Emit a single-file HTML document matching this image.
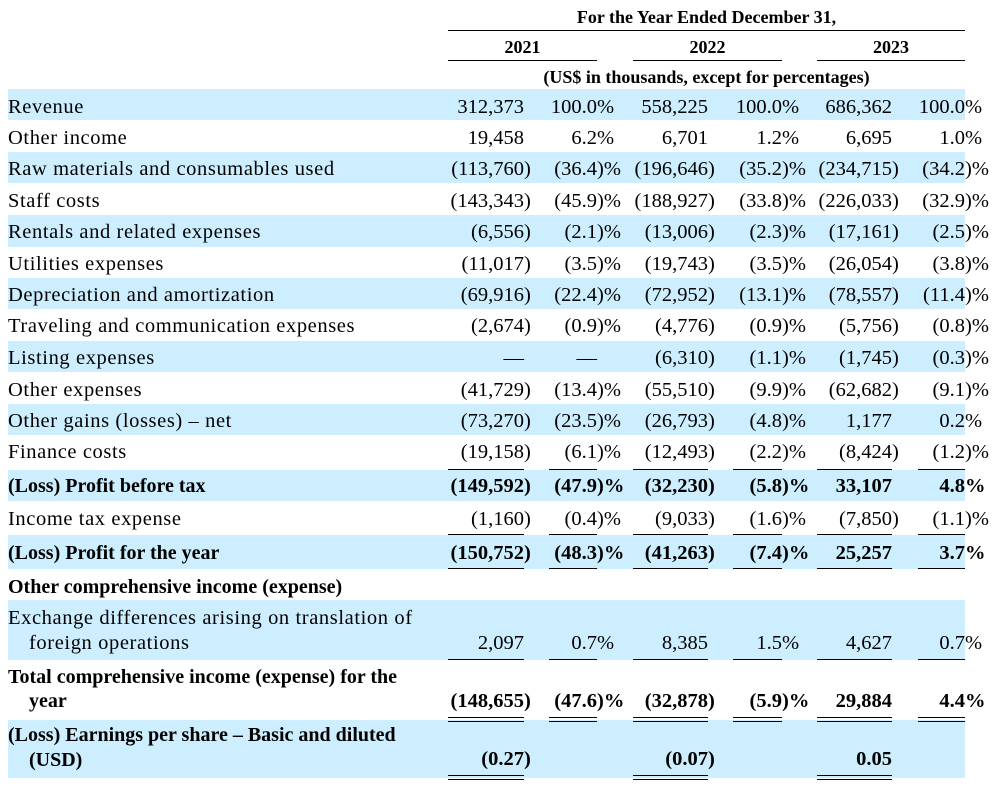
<!DOCTYPE html>
<html><head><meta charset="utf-8">
<style>
html,body{margin:0;padding:0}
body{width:999px;height:793px;background:#fff;position:relative;overflow:hidden;font-family:"Liberation Serif","Times New Roman",serif;color:#000}
.b{position:absolute;left:8px;width:957px;background:#cceeff}
.r{position:absolute;left:0;width:999px;height:0;margin-top:1px}
.l{position:absolute;left:8px;top:0;font-size:20.5px;line-height:20.5px;letter-spacing:0.6px;white-space:nowrap}
.lb{position:absolute;left:8px;top:0;font-size:20px;line-height:20px;font-weight:bold;white-space:nowrap}
.ind{left:29px}
.c{position:absolute;top:0;width:0;height:20.5px;font-size:20.5px;line-height:20.5px}
.c .n{position:absolute;right:0;top:0;white-space:nowrap}
.c .s{position:absolute;left:0;top:0;white-space:nowrap}
.bd .c{font-weight:bold}
.u{position:absolute;height:1.2px;background:#000}
.h{position:absolute;font-size:18px;line-height:18px;font-weight:bold;white-space:nowrap;text-align:center;margin-top:1px}
.c1{left:524px}.p1{left:597px}.c2{left:708px}.p2{left:782px}.c3{left:892px}.p3{left:965px}
</style></head><body>

<!-- header -->
<div class="h" style="left:448px;width:517px;top:6.9px">For the Year Ended December 31,</div>
<div class="u" style="left:448px;width:517px;top:30px"></div>
<div class="h" style="left:448px;width:149px;top:37.2px">2021</div>
<div class="h" style="left:633px;width:149px;top:37.2px">2022</div>
<div class="h" style="left:817px;width:148px;top:37.2px">2023</div>
<div class="u" style="left:448px;width:149px;top:60px"></div>
<div class="u" style="left:633px;width:149px;top:60px"></div>
<div class="u" style="left:817px;width:148px;top:60px"></div>
<div class="h" style="left:448px;width:517px;top:66.6px">(US$ in thousands, except for percentages)</div>

<!-- bands -->
<div class="b" style="top:89px;height:31px"></div>
<div class="b" style="top:152px;height:31px"></div>
<div class="b" style="top:215px;height:31.5px"></div>
<div class="b" style="top:278px;height:31px"></div>
<div class="b" style="top:341px;height:31px"></div>
<div class="b" style="top:404px;height:31px"></div>
<div class="b" style="top:470px;height:31px"></div>
<div class="b" style="top:535px;height:33.5px"></div>
<div class="b" style="top:600px;height:60px"></div>
<div class="b" style="top:720px;height:58px"></div>

<!-- rows -->
<div class="r" style="top:95.5px"><div class="l">Revenue</div>
<div class="c c1"><span class="n">312,373</span></div>
<div class="c p1"><span class="n">100.0</span><span class="s">%</span></div>
<div class="c c2"><span class="n">558,225</span></div>
<div class="c p2"><span class="n">100.0</span><span class="s">%</span></div>
<div class="c c3"><span class="n">686,362</span></div>
<div class="c p3"><span class="n">100.0</span><span class="s">%</span></div></div>

<div class="r" style="top:126.9px"><div class="l">Other income</div>
<div class="c c1"><span class="n">19,458</span></div>
<div class="c p1"><span class="n">6.2</span><span class="s">%</span></div>
<div class="c c2"><span class="n">6,701</span></div>
<div class="c p2"><span class="n">1.2</span><span class="s">%</span></div>
<div class="c c3"><span class="n">6,695</span></div>
<div class="c p3"><span class="n">1.0</span><span class="s">%</span></div></div>

<div class="r" style="top:158.3px"><div class="l">Raw materials and consumables used</div>
<div class="c c1"><span class="n">(113,760</span><span class="s">)</span></div>
<div class="c p1"><span class="n">(36.4</span><span class="s">)%</span></div>
<div class="c c2"><span class="n">(196,646</span><span class="s">)</span></div>
<div class="c p2"><span class="n">(35.2</span><span class="s">)%</span></div>
<div class="c c3"><span class="n">(234,715</span><span class="s">)</span></div>
<div class="c p3"><span class="n">(34.2</span><span class="s">)%</span></div></div>

<div class="r" style="top:189.7px"><div class="l">Staff costs</div>
<div class="c c1"><span class="n">(143,343</span><span class="s">)</span></div>
<div class="c p1"><span class="n">(45.9</span><span class="s">)%</span></div>
<div class="c c2"><span class="n">(188,927</span><span class="s">)</span></div>
<div class="c p2"><span class="n">(33.8</span><span class="s">)%</span></div>
<div class="c c3"><span class="n">(226,033</span><span class="s">)</span></div>
<div class="c p3"><span class="n">(32.9</span><span class="s">)%</span></div></div>

<div class="r" style="top:221.1px"><div class="l">Rentals and related expenses</div>
<div class="c c1"><span class="n">(6,556</span><span class="s">)</span></div>
<div class="c p1"><span class="n">(2.1</span><span class="s">)%</span></div>
<div class="c c2"><span class="n">(13,006</span><span class="s">)</span></div>
<div class="c p2"><span class="n">(2.3</span><span class="s">)%</span></div>
<div class="c c3"><span class="n">(17,161</span><span class="s">)</span></div>
<div class="c p3"><span class="n">(2.5</span><span class="s">)%</span></div></div>

<div class="r" style="top:252.5px"><div class="l">Utilities expenses</div>
<div class="c c1"><span class="n">(11,017</span><span class="s">)</span></div>
<div class="c p1"><span class="n">(3.5</span><span class="s">)%</span></div>
<div class="c c2"><span class="n">(19,743</span><span class="s">)</span></div>
<div class="c p2"><span class="n">(3.5</span><span class="s">)%</span></div>
<div class="c c3"><span class="n">(26,054</span><span class="s">)</span></div>
<div class="c p3"><span class="n">(3.8</span><span class="s">)%</span></div></div>

<div class="r" style="top:283.9px"><div class="l">Depreciation and amortization</div>
<div class="c c1"><span class="n">(69,916</span><span class="s">)</span></div>
<div class="c p1"><span class="n">(22.4</span><span class="s">)%</span></div>
<div class="c c2"><span class="n">(72,952</span><span class="s">)</span></div>
<div class="c p2"><span class="n">(13.1</span><span class="s">)%</span></div>
<div class="c c3"><span class="n">(78,557</span><span class="s">)</span></div>
<div class="c p3"><span class="n">(11.4</span><span class="s">)%</span></div></div>

<div class="r" style="top:315.3px"><div class="l">Traveling and communication expenses</div>
<div class="c c1"><span class="n">(2,674</span><span class="s">)</span></div>
<div class="c p1"><span class="n">(0.9</span><span class="s">)%</span></div>
<div class="c c2"><span class="n">(4,776</span><span class="s">)</span></div>
<div class="c p2"><span class="n">(0.9</span><span class="s">)%</span></div>
<div class="c c3"><span class="n">(5,756</span><span class="s">)</span></div>
<div class="c p3"><span class="n">(0.8</span><span class="s">)%</span></div></div>

<div class="r" style="top:346.7px"><div class="l">Listing expenses</div>
<div class="c c1"><span class="n">—</span></div>
<div class="c p1"><span class="n">—</span></div>
<div class="c c2"><span class="n">(6,310</span><span class="s">)</span></div>
<div class="c p2"><span class="n">(1.1</span><span class="s">)%</span></div>
<div class="c c3"><span class="n">(1,745</span><span class="s">)</span></div>
<div class="c p3"><span class="n">(0.3</span><span class="s">)%</span></div></div>

<div class="r" style="top:378.6px"><div class="l">Other expenses</div>
<div class="c c1"><span class="n">(41,729</span><span class="s">)</span></div>
<div class="c p1"><span class="n">(13.4</span><span class="s">)%</span></div>
<div class="c c2"><span class="n">(55,510</span><span class="s">)</span></div>
<div class="c p2"><span class="n">(9.9</span><span class="s">)%</span></div>
<div class="c c3"><span class="n">(62,682</span><span class="s">)</span></div>
<div class="c p3"><span class="n">(9.1</span><span class="s">)%</span></div></div>

<div class="r" style="top:409.5px"><div class="l">Other gains (losses) – net</div>
<div class="c c1"><span class="n">(73,270</span><span class="s">)</span></div>
<div class="c p1"><span class="n">(23.5</span><span class="s">)%</span></div>
<div class="c c2"><span class="n">(26,793</span><span class="s">)</span></div>
<div class="c p2"><span class="n">(4.8</span><span class="s">)%</span></div>
<div class="c c3"><span class="n">1,177</span></div>
<div class="c p3"><span class="n">0.2</span><span class="s">%</span></div></div>

<div class="r" style="top:441.2px"><div class="l">Finance costs</div>
<div class="c c1"><span class="n">(19,158</span><span class="s">)</span></div>
<div class="c p1"><span class="n">(6.1</span><span class="s">)%</span></div>
<div class="c c2"><span class="n">(12,493</span><span class="s">)</span></div>
<div class="c p2"><span class="n">(2.2</span><span class="s">)%</span></div>
<div class="c c3"><span class="n">(8,424</span><span class="s">)</span></div>
<div class="c p3"><span class="n">(1.2</span><span class="s">)%</span></div></div>

<div class="r bd" style="top:475.1px"><div class="lb" style="top:0.4px">(Loss) Profit before tax</div>
<div class="c c1"><span class="n">(149,592</span><span class="s">)</span></div>
<div class="c p1"><span class="n">(47.9</span><span class="s">)%</span></div>
<div class="c c2"><span class="n">(32,230</span><span class="s">)</span></div>
<div class="c p2"><span class="n">(5.8</span><span class="s">)%</span></div>
<div class="c c3"><span class="n">33,107</span></div>
<div class="c p3"><span class="n">4.8</span><span class="s">%</span></div></div>

<div class="r" style="top:507.5px"><div class="l">Income tax expense</div>
<div class="c c1"><span class="n">(1,160</span><span class="s">)</span></div>
<div class="c p1"><span class="n">(0.4</span><span class="s">)%</span></div>
<div class="c c2"><span class="n">(9,033</span><span class="s">)</span></div>
<div class="c p2"><span class="n">(1.6</span><span class="s">)%</span></div>
<div class="c c3"><span class="n">(7,850</span><span class="s">)</span></div>
<div class="c p3"><span class="n">(1.1</span><span class="s">)%</span></div></div>

<div class="r bd" style="top:541.8px"><div class="lb">(Loss) Profit for the year</div>
<div class="c c1"><span class="n">(150,752</span><span class="s">)</span></div>
<div class="c p1"><span class="n">(48.3</span><span class="s">)%</span></div>
<div class="c c2"><span class="n">(41,263</span><span class="s">)</span></div>
<div class="c p2"><span class="n">(7.4</span><span class="s">)%</span></div>
<div class="c c3"><span class="n">25,257</span></div>
<div class="c p3"><span class="n">3.7</span><span class="s">%</span></div></div>

<div class="r" style="top:575.95px"><div class="lb">Other comprehensive income (expense)</div></div>

<div class="r" style="top:607.1px"><div class="l">Exchange differences arising on translation of</div></div>
<div class="r" style="top:631.6px"><div class="l ind">foreign operations</div>
<div class="c c1"><span class="n">2,097</span></div>
<div class="c p1"><span class="n">0.7</span><span class="s">%</span></div>
<div class="c c2"><span class="n">8,385</span></div>
<div class="c p2"><span class="n">1.5</span><span class="s">%</span></div>
<div class="c c3"><span class="n">4,627</span></div>
<div class="c p3"><span class="n">0.7</span><span class="s">%</span></div></div>

<div class="r" style="top:666.15px"><div class="lb">Total comprehensive income (expense) for the</div></div>
<div class="r bd" style="top:689.8px"><div class="lb ind" style="top:0.6px">year</div>
<div class="c c1"><span class="n">(148,655</span><span class="s">)</span></div>
<div class="c p1"><span class="n">(47.6</span><span class="s">)%</span></div>
<div class="c c2"><span class="n">(32,878</span><span class="s">)</span></div>
<div class="c p2"><span class="n">(5.9</span><span class="s">)%</span></div>
<div class="c c3"><span class="n">29,884</span></div>
<div class="c p3"><span class="n">4.4</span><span class="s">%</span></div></div>

<div class="r" style="top:724.25px"><div class="lb">(Loss) Earnings per share – Basic and diluted</div></div>
<div class="r bd" style="top:748px"><div class="lb ind" style="top:0.75px">(USD)</div>
<div class="c c1"><span class="n">(0.27</span><span class="s">)</span></div>
<div class="c c2"><span class="n">(0.07</span><span class="s">)</span></div>
<div class="c c3"><span class="n">0.05</span></div></div>

<!-- underlines: finance costs -->
<div class="u" style="left:448px;width:76px;top:469px"></div>
<div class="u" style="left:549px;width:48px;top:469px"></div>
<div class="u" style="left:633px;width:75px;top:469px"></div>
<div class="u" style="left:733px;width:49px;top:469px"></div>
<div class="u" style="left:817px;width:75px;top:469px"></div>
<div class="u" style="left:918px;width:47px;top:469px"></div>
<!-- income tax -->
<div class="u" style="left:448px;width:76px;top:534px"></div>
<div class="u" style="left:549px;width:48px;top:534px"></div>
<div class="u" style="left:633px;width:75px;top:534px"></div>
<div class="u" style="left:733px;width:49px;top:534px"></div>
<div class="u" style="left:817px;width:75px;top:534px"></div>
<div class="u" style="left:918px;width:47px;top:534px"></div>
<!-- profit for year -->
<div class="u" style="left:448px;width:76px;top:568px"></div>
<div class="u" style="left:549px;width:48px;top:568px"></div>
<div class="u" style="left:633px;width:75px;top:568px"></div>
<div class="u" style="left:733px;width:49px;top:568px"></div>
<div class="u" style="left:817px;width:75px;top:568px"></div>
<div class="u" style="left:918px;width:47px;top:568px"></div>
<!-- exchange -->
<div class="u" style="left:448px;width:76px;top:659px"></div>
<div class="u" style="left:549px;width:48px;top:659px"></div>
<div class="u" style="left:633px;width:75px;top:659px"></div>
<div class="u" style="left:733px;width:49px;top:659px"></div>
<div class="u" style="left:817px;width:75px;top:659px"></div>
<div class="u" style="left:918px;width:47px;top:659px"></div>
<!-- total double -->
<div class="u" style="left:448px;width:76px;top:717px"></div>
<div class="u" style="left:549px;width:48px;top:717px"></div>
<div class="u" style="left:633px;width:75px;top:717px"></div>
<div class="u" style="left:733px;width:49px;top:717px"></div>
<div class="u" style="left:817px;width:75px;top:717px"></div>
<div class="u" style="left:918px;width:47px;top:717px"></div>
<div class="u" style="left:448px;width:76px;top:720.6px"></div>
<div class="u" style="left:549px;width:48px;top:720.6px"></div>
<div class="u" style="left:633px;width:75px;top:720.6px"></div>
<div class="u" style="left:733px;width:49px;top:720.6px"></div>
<div class="u" style="left:817px;width:75px;top:720.6px"></div>
<div class="u" style="left:918px;width:47px;top:720.6px"></div>
<!-- EPS double -->
<div class="u" style="left:448px;width:76px;top:775px"></div>
<div class="u" style="left:633px;width:75px;top:775px"></div>
<div class="u" style="left:817px;width:75px;top:775px"></div>
<div class="u" style="left:448px;width:76px;top:778.6px"></div>
<div class="u" style="left:633px;width:75px;top:778.6px"></div>
<div class="u" style="left:817px;width:75px;top:778.6px"></div>

</body></html>
